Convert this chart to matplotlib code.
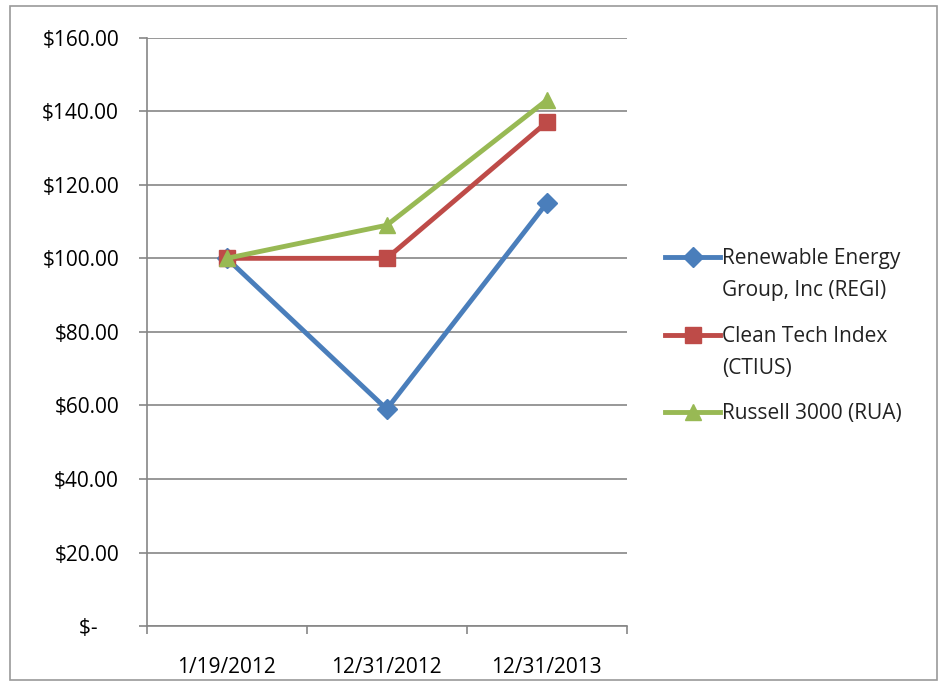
import matplotlib
matplotlib.use('Agg')
import matplotlib.pyplot as plt
from matplotlib.lines import Line2D
from matplotlib.patches import Rectangle
from matplotlib.ticker import FuncFormatter

dates = ["1/19/2012", "12/31/2012", "12/31/2013"]
regi = [100, 59, 115]
ctius = [100, 100, 137]
rua = [100, 109, 143]
labels = ["Renewable Energy\nGroup, Inc (REGI)", "Clean Tech Index\n(CTIUS)", "Russell 3000 (RUA)"]
y_ticks = [0, 20, 40, 60, 80, 100, 120, 140, 160]

plt.rcParams['font.family'] = ['Open Sans', 'DejaVu Sans']

W, H = 941, 685


def money(v, pos):
    if v == 0:
        return "$-    "
    return "${:,.2f}".format(v)


def main():
    fig = plt.figure(figsize=(W / 100, H / 100), dpi=100)
    ax = fig.add_axes([0.156, 0.086, 0.510, 0.859])

    x = range(len(dates))
    styles = [("#4A7EBB", "D", 10), ("#BE4B48", "s", 11), ("#98B954", "^", 12)]
    for vals, (c, m, ms) in zip([regi, ctius, rua], styles):
        ax.plot(x, vals, color=c, lw=3.5, marker=m, ms=ms)

    ax.set_xlim(-0.5, len(dates) - 0.5)
    ax.set_ylim(0, 160)
    ax.set_yticks(y_ticks)
    ax.yaxis.set_major_formatter(FuncFormatter(money))
    ax.set_xticks(x)
    ax.set_xticklabels(dates)
    ax.set_xticks([i - 0.5 for i in range(len(dates) + 1)], minor=True)
    ax.tick_params(axis="x", which="major", length=0, pad=22, labelsize=15)
    ax.tick_params(axis="x", which="minor", length=6, color="#868686", width=1.2)
    ax.tick_params(axis="y", length=6, color="#868686", width=1.2, labelsize=15, pad=14)

    ax.grid(axis="y", color="#868686", lw=1.2)
    ax.set_axisbelow(True)
    for s in ["top", "right"]:
        ax.spines[s].set_visible(False)
    for s in ["left", "bottom"]:
        ax.spines[s].set_color("#868686")
        ax.spines[s].set_linewidth(1.2)

    # legend drawn by hand so the marker sits on the first line of each label
    for lab, (c, m, ms), ypx in zip(labels, styles, [257, 335, 412]):
        yf = 1 - ypx / H
        fig.add_artist(Line2D([665 / W, 720 / W], [yf, yf], transform=fig.transFigure,
                              color=c, lw=3.5))
        fig.add_artist(Line2D([692.5 / W], [yf], transform=fig.transFigure,
                              color=c, marker=m, ms=ms, ls="none"))
        fig.text(722 / W, 1 - (ypx - 9) / H, lab, fontsize=15, va="top",
                 ha="left", linespacing=1.7, color="#222222")

    fig.patches.append(Rectangle((0.011, 0.008), 0.985, 0.983, transform=fig.transFigure,
                                 fill=False, edgecolor="#9a9a9a", lw=1.2))

    fig.savefig("out.png", dpi=100)


if __name__ == "__main__":
    main()
